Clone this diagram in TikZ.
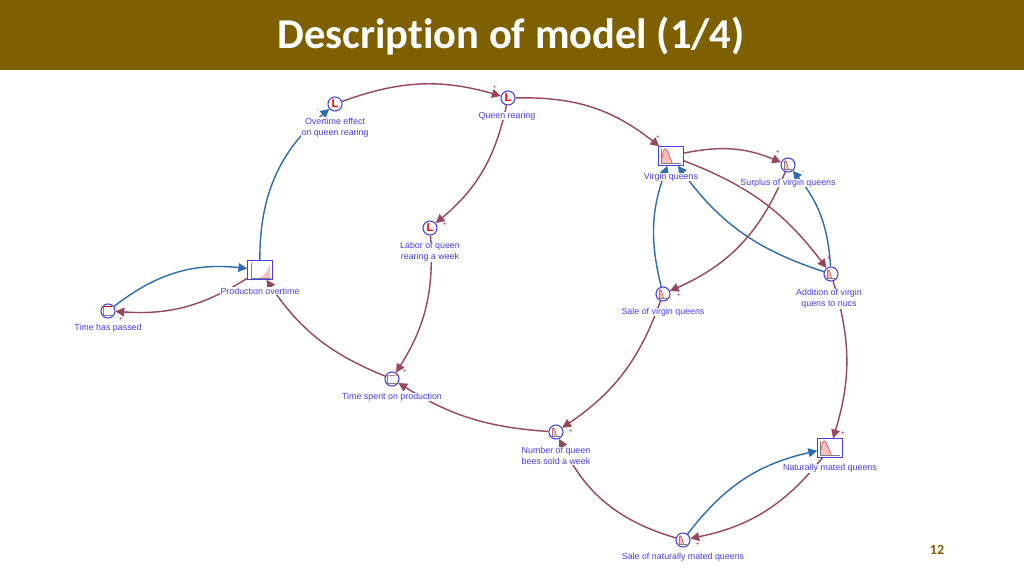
\documentclass[tikz,border=0pt]{standalone}
\usepackage{fontspec}
\setmainfont{Liberation Sans}
\newfontfamily\titlefont[Ligatures=NoCommon]{Carlito}
\usetikzlibrary{arrows.meta}
\definecolor{bandolive}{RGB}{127,96,0}
\definecolor{linkred}{RGB}{150,70,95}
\definecolor{linkblue}{RGB}{45,110,170}
\definecolor{labelblue}{RGB}{72,62,232}
\definecolor{plotpink}{RGB}{250,190,190}
\tikzset{
	aux/.style={circle, draw=labelblue, semithick, fill=white, minimum size=8pt, inner sep=0pt},
	stock/.style={rectangle, draw=labelblue, semithick, fill=white, minimum width=14pt, minimum height=10.5pt, inner sep=0pt},
	var/.style={align=center, text=labelblue, font=\fontsize{5.05}{6.3}\selectfont, fill=white, inner sep=0.2pt},
	plus/.style={text=linkred, font=\fontsize{4}{4}\selectfont, inner sep=0pt},
	redlink/.style={draw=linkred, thick, -{Triangle[length=5pt,width=5pt]}, bend left=#1},
	redlink/.default=25,
	bluelink/.style={draw=linkblue, thick, -{Triangle[length=5pt,width=5pt]}, bend left=#1},
	bluelink/.default=25
}
\newcommand{\letterplot}[1]{\node[text=red, font=\bfseries\fontsize{6.5}{6.5}\selectfont, inner sep=0pt] at (#1) {L};}
\newcommand{\peakplot}[3]{
	\begin{scope}[shift={(#1)}, xscale=#2, yscale=#3]
		\fill[plotpink] (-4,4) .. controls (-3,-9) and (-2,-5) .. (0.5,4) -- cycle;
		\draw[red!85!black, very thin] (-4,4) .. controls (-3,-9) and (-2,-5) .. (0.5,4);
		\draw[gray, very thin] (-4,-4) -- (-4,4) -- (4,4);
	\end{scope}
}
\begin{document}
\begin{tikzpicture}[x=0.02cm, y=-0.02cm]
	\useasboundingbox (0,0) rectangle (1024,576);
	\fill[white] (0,0) rectangle (1024,576);
	\fill[bandolive] (0,0) rectangle (1024,70);
	\draw (511,36) node[text=white, font=\titlefont\bfseries\fontsize{24.2}{28}\selectfont] (title)
	{
		Description of model (1/4)
	};
	\draw (937,550) node[text=bandolive, font=\titlefont\bfseries\fontsize{8}{9}\selectfont] (pagenumber)
	{
		12
	};
	
	% icons
	\draw (335,104) node[aux] (overtime) {};
	\draw (508,98) node[aux] (rearing) {};
	\draw (430,228) node[aux] (labor) {};
	\draw (788,165) node[aux] (surplus) {};
	\draw (831,274) node[aux] (addition) {};
	\draw (663,294) node[aux] (salevirgin) {};
	\draw (392,379) node[aux] (timespent) {};
	\draw (556,432) node[aux] (sold) {};
	\draw (683,540) node[aux] (salemated) {};
	\draw (108,311) node[aux] (passed) {};
	\draw (260,270) node[stock] (production) {};
	\draw (671,156) node[stock] (virgin) {};
	\draw (830,448) node[stock] (mated) {};
	
	% links
	\draw [bluelink] (production) to (overtime);
	\draw [redlink=18] (overtime) to (rearing);
	\draw [redlink=20] (rearing) to (virgin);
	\draw [redlink=19] (rearing) to (labor);
	\draw [redlink=18] (labor) to (timespent);
	\draw [redlink=17] (timespent) to (production);
	\draw [redlink=14] (sold) to (timespent);
	\draw [redlink=18] (salevirgin) to (sold);
	\draw [redlink=24] (salemated) to (sold);
	\draw [redlink=17] (addition) to (mated);
	\draw [redlink=20] (mated) to (salemated);
	\draw [bluelink=20] (salemated) to (mated);
	\draw [redlink=18] (production) to (passed);
	\draw [bluelink=22] (passed) to (production);
	\draw [redlink=17] (virgin) to (surplus);
	\draw [redlink=16] (virgin) to (addition);
	\draw [redlink=22] (surplus) to (salevirgin);
	\draw [bluelink=17] (salevirgin) to (virgin);
	\draw [bluelink=18] (addition) to (virgin);
	\draw [bluelink=-18] (addition) to (surplus);
	
	% plots inside the icons
	\letterplot{overtime}
	\letterplot{rearing}
	\letterplot{labor}
	\peakplot{surplus}{1}{1}
	\peakplot{addition}{1}{1}
	\peakplot{salevirgin}{1}{1}
	\peakplot{sold}{1}{1}
	\peakplot{salemated}{1}{1}
	\peakplot{virgin}{2.4}{1.7}
	\peakplot{mated}{2.4}{1.7}
	\fill[plotpink] (258,278) .. controls (264,277) and (268,271) .. (270,264) -- (270,278) -- cycle;
	\draw[gray, very thin] (251,263) -- (251,278) -- (271,278);
	\draw[red!70!black, very thin] (387,379) -- (387,376) -- (397,375);
	\draw[gray, very thin] (387,375) -- (387,383) -- (397,383);
	\draw[red!70!black, very thin] (103,311) -- (103,306) -- (112,306);
	\draw[gray, very thin] (103,306) -- (103,315) -- (112,315);
	
	% labels
	\draw (335,127.5) node[var] (overtimelabel) {Overtime effect\\on queen rearing};
	\draw (507,116) node[var] (rearinglabel) {Queen rearing};
	\draw (430,252) node[var] (laborlabel) {Labor of queen\\rearing a week};
	\draw (788,183) node[var] (surpluslabel) {Surplus of virgin queens};
	\draw (829,299) node[var] (additionlabel) {Addition of virgin\\quens to nucs};
	\draw (663,312) node[var] (salevirginlabel) {Sale of virgin queens};
	\draw (671,177) node[var] (virginlabel) {Virgin queens};
	\draw (392,397) node[var] (timespentlabel) {Time spent on production};
	\draw (556,456) node[var] (soldlabel) {Number of queen\\bees sold a week};
	\draw (683,557.5) node[var] (salematedlabel) {Sale of naturally mated queens};
	\draw (108,328.5) node[var] (passedlabel) {Time has passed};
	\draw (260,291) node[var] (productionlabel) {Production overtime};
	\draw (830,468) node[var] (matedlabel) {Naturally mated queens};
	
	% polarity marks
	\draw (495,87) node[plus] (markrearing) {+};
	\draw (658,137) node[plus] (markvirgin) {+};
	\draw (445,224) node[plus] (marklabor) {+};
	\draw (405,371) node[plus] (marktimespent) {+};
	\draw (121,319) node[plus] (markpassed) {+};
	\draw (778,152) node[plus] (marksurplus) {+};
	\draw (829,258) node[plus] (markaddition) {+};
	\draw (679,295) node[plus] (marksalevirgin) {+};
	\draw (571,431) node[plus] (marksold) {+};
	\draw (843,433) node[plus] (markmated) {+};
	\draw (698,544) node[plus] (marksalemated) {+};
	\draw (318,110) node[plus] (markovertime) {-};
	\draw (803,172) node[plus] (marksurplustwo) {-};
\end{tikzpicture}
\end{document}
